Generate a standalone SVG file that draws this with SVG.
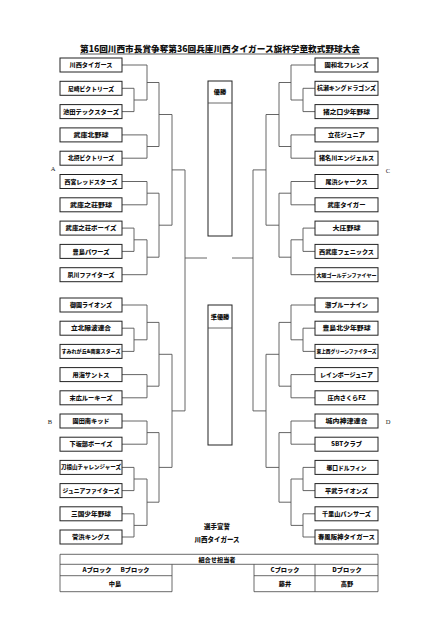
<svg xmlns="http://www.w3.org/2000/svg" width="447" height="640" viewBox="0 0 447 640">
<style>
.bg{fill:#fff}
.box{fill:#fff;stroke:#222;stroke-width:1}
.ln{fill:none;stroke:#555;stroke-width:0.9}
.tl{fill:none;stroke:#444;stroke-width:0.8}
.t{font-family:"Noto Sans CJK JP","Noto Sans",sans-serif;font-weight:900;fill:#111;text-anchor:middle;font-size:6.2px}
.s{font-size:5px}
.lab{font-family:"Liberation Serif",serif;font-size:6.5px;fill:#222;text-anchor:middle}
.title{font-family:"Noto Sans CJK JP",sans-serif;font-weight:900;font-size:8.5px;fill:#111;text-anchor:middle}
</style>
<rect class="bg" x="0" y="0" width="447" height="640"/>
<g id="title">
<text class="title" x="220" y="52" textLength="280" lengthAdjust="spacingAndGlyphs">第16回川西市長賞争奪第36回兵庫川西タイガース旗杯学童軟式野球大会</text>
<line x1="80" y1="54" x2="360" y2="54" stroke="#111" stroke-width="0.7"/>
</g>
<g id="connectors">
<path class="ln" d="M122,88.3H134V111.6H122M134,100H147M122,65H147V100M147,82.5H159M122,134.9H147V158.2H122M147,146.5H159M159,82.5V146.5M159,114.5H172
M122,181.5H147V204.8H122M147,193.2H159M122,228.1H134V251.4H122M134,239.8H147M122,274.7H147V239.8M147,257.2H159M159,193.2V257.2M159,225.2H172M172,114.5V225.2M172,169.9H185
M122,328.2H134V351.4H122M134,339.8H147M122,305H147V339.8M147,322.4H159M122,374.6H147V397.8H122M147,386.2H159M159,322.4V386.2M159,354.3H172
M122,421H147V444.2H122M147,432.6H159M122,467.4H134V490.6H122M134,479H147M122,513.8H134V537H122M134,525.4H147M147,479V525.4M147,502.2H159M159,432.6V502.2M159,467.4H172M172,354.3V467.4M172,410.9H185M185,169.9V410.9M185,258H207"/>
<path class="ln" d="M315,88.3H303V111.6H315M303,100H291M315,65H291V100M291,82.5H279M315,134.9H291V158.2H315M291,146.5H279M279,82.5V146.5M279,114.5H266
M315,181.5H291V204.8H315M291,193.2H279M315,228.1H303V251.4H315M303,239.8H291M315,274.7H291V239.8M291,257.2H279M279,193.2V257.2M279,225.2H266M266,114.5V225.2M266,169.9H253
M315,328.2H303V351.4H315M303,339.8H291M315,305H291V339.8M291,322.4H279M315,374.6H291V397.8H315M291,386.2H279M279,322.4V386.2M279,354.3H266
M315,421H291V444.2H315M291,432.6H279M315,467.4H303V490.6H315M303,479H291M315,513.8H303V537H315M303,525.4H291M291,479V525.4M291,502.2H279M279,432.6V502.2M279,467.4H266M266,354.3V467.4M266,410.9H253M253,169.9V410.9M253,258H232"/>
</g>
<g id="labels">
<text class="lab" x="53" y="171">A</text>
<text class="lab" x="50" y="424">B</text>
<text class="lab" x="388" y="173">C</text>
<text class="lab" x="388" y="424">D</text>
</g>
<g id="L01"><rect class="box" x="60" y="58" width="62" height="14"/><text class="t" x="91" y="67.2" textLength="43" lengthAdjust="spacingAndGlyphs">川西タイガース</text></g>
<g id="L02"><rect class="box" x="60" y="81.3" width="62" height="14"/><text class="t" x="91" y="90.5" textLength="46" lengthAdjust="spacingAndGlyphs">尼崎ビクトリーズ</text></g>
<g id="L03"><rect class="box" x="60" y="104.6" width="62" height="14"/><text class="t" x="91" y="113.8" textLength="56" lengthAdjust="spacingAndGlyphs">池田テックスターズ</text></g>
<g id="L04"><rect class="box" x="60" y="127.9" width="62" height="14"/><text class="t" x="91" y="137.1" textLength="35" lengthAdjust="spacingAndGlyphs">武庫北野球</text></g>
<g id="L05"><rect class="box" x="60" y="151.2" width="62" height="14"/><text class="t" x="91" y="160.4" textLength="46" lengthAdjust="spacingAndGlyphs">北摂ビクトリーズ</text></g>
<g id="L06"><rect class="box" x="60" y="174.5" width="62" height="14"/><text class="t" x="91" y="183.7" textLength="53" lengthAdjust="spacingAndGlyphs">西宮レッドスターズ</text></g>
<g id="L07"><rect class="box" x="60" y="197.8" width="62" height="14"/><text class="t" x="91" y="207" textLength="42" lengthAdjust="spacingAndGlyphs">武庫之荘野球</text></g>
<g id="L08"><rect class="box" x="60" y="221.1" width="62" height="14"/><text class="t" x="91" y="230.3" textLength="51" lengthAdjust="spacingAndGlyphs">武庫之荘ボーイズ</text></g>
<g id="L09"><rect class="box" x="60" y="244.4" width="62" height="14"/><text class="t" x="91" y="253.6" textLength="37" lengthAdjust="spacingAndGlyphs">豊島パワーズ</text></g>
<g id="L10"><rect class="box" x="60" y="267.7" width="62" height="14"/><text class="t" x="91" y="276.9" textLength="47" lengthAdjust="spacingAndGlyphs">夙川ファイターズ</text></g>
<g id="L11"><rect class="box" x="60" y="298" width="62" height="14"/><text class="t" x="91" y="307.2" textLength="42" lengthAdjust="spacingAndGlyphs">御園ライオンズ</text></g>
<g id="L12"><rect class="box" x="60" y="321.2" width="62" height="14"/><text class="t" x="91" y="330.4" textLength="40" lengthAdjust="spacingAndGlyphs">立北陽波連合</text></g>
<g id="L13"><rect class="box" x="60" y="344.4" width="62" height="14"/><text class="t s" x="91" y="353.2" textLength="59" lengthAdjust="spacingAndGlyphs">すみれが丘&amp;南東スターズ</text></g>
<g id="L14"><rect class="box" x="60" y="367.6" width="62" height="14"/><text class="t" x="91" y="376.8" textLength="37" lengthAdjust="spacingAndGlyphs">用海サントス</text></g>
<g id="L15"><rect class="box" x="60" y="390.8" width="62" height="14"/><text class="t" x="91" y="400" textLength="43" lengthAdjust="spacingAndGlyphs">末広ルーキーズ</text></g>
<g id="L16"><rect class="box" x="60" y="414" width="62" height="14"/><text class="t" x="91" y="423.2" textLength="37" lengthAdjust="spacingAndGlyphs">園田南キッド</text></g>
<g id="L17"><rect class="box" x="60" y="437.2" width="62" height="14"/><text class="t" x="91" y="446.4" textLength="43" lengthAdjust="spacingAndGlyphs">下坂部ボーイズ</text></g>
<g id="L18"><rect class="box" x="60" y="460.4" width="62" height="14"/><text class="t" x="91" y="469.4" textLength="60" lengthAdjust="spacingAndGlyphs" style="font-size:5.6px">刀根山チャレンジャーズ</text></g>
<g id="L19"><rect class="box" x="60" y="483.6" width="62" height="14"/><text class="t" x="91" y="492.7" textLength="57" lengthAdjust="spacingAndGlyphs" style="font-size:5.8px">ジュニアファイターズ</text></g>
<g id="L20"><rect class="box" x="60" y="506.8" width="62" height="14"/><text class="t" x="91" y="516" textLength="40" lengthAdjust="spacingAndGlyphs">三国少年野球</text></g>
<g id="L21"><rect class="box" x="60" y="530" width="62" height="14"/><text class="t" x="91" y="539.2" textLength="38" lengthAdjust="spacingAndGlyphs">菅浜キングス</text></g>
<g id="R01"><rect class="box" x="315" y="58" width="63" height="14"/><text class="t" x="346.5" y="67.2" textLength="44" lengthAdjust="spacingAndGlyphs">園和北フレンズ</text></g>
<g id="R02"><rect class="box" x="315" y="81.3" width="63" height="14"/><text class="t" x="346.5" y="90.4" textLength="59" lengthAdjust="spacingAndGlyphs" style="font-size:5.8px">杭瀬キングドラゴンズ</text></g>
<g id="R03"><rect class="box" x="315" y="104.6" width="63" height="14"/><text class="t" x="346.5" y="113.8" textLength="47" lengthAdjust="spacingAndGlyphs">猪之口少年野球</text></g>
<g id="R04"><rect class="box" x="315" y="127.9" width="63" height="14"/><text class="t" x="346.5" y="137.1" textLength="37" lengthAdjust="spacingAndGlyphs">立花ジュニア</text></g>
<g id="R05"><rect class="box" x="315" y="151.2" width="63" height="14"/><text class="t" x="346.5" y="160.4" textLength="55" lengthAdjust="spacingAndGlyphs">猪名川エンジェルス</text></g>
<g id="R06"><rect class="box" x="315" y="174.5" width="63" height="14"/><text class="t" x="346.5" y="183.7" textLength="42" lengthAdjust="spacingAndGlyphs">尾浜シャークス</text></g>
<g id="R07"><rect class="box" x="315" y="197.8" width="63" height="14"/><text class="t" x="346.5" y="207" textLength="38" lengthAdjust="spacingAndGlyphs">武庫タイガー</text></g>
<g id="R08"><rect class="box" x="315" y="221.1" width="63" height="14"/><text class="t" x="346.5" y="230.3" textLength="28" lengthAdjust="spacingAndGlyphs">大庄野球</text></g>
<g id="R09"><rect class="box" x="315" y="244.4" width="63" height="14"/><text class="t" x="346.5" y="253.6" textLength="55" lengthAdjust="spacingAndGlyphs">西武庫フェニックス</text></g>
<g id="R10"><rect class="box" x="315" y="267.7" width="63" height="14"/><text class="t s" x="346.5" y="276.5" textLength="60" lengthAdjust="spacingAndGlyphs">大阪ゴールデンファイヤー</text></g>
<g id="R11"><rect class="box" x="315" y="298" width="63" height="14"/><text class="t" x="346.5" y="307.2" textLength="43" lengthAdjust="spacingAndGlyphs">潮ブルーナイン</text></g>
<g id="R12"><rect class="box" x="315" y="321.2" width="63" height="14"/><text class="t" x="346.5" y="330.4" textLength="48" lengthAdjust="spacingAndGlyphs">豊島北少年野球</text></g>
<g id="R13"><rect class="box" x="315" y="344.4" width="63" height="14"/><text class="t s" x="346.5" y="353.2" textLength="60" lengthAdjust="spacingAndGlyphs">東上西グリーンファイターズ</text></g>
<g id="R14"><rect class="box" x="315" y="367.6" width="63" height="14"/><text class="t" x="346.5" y="376.8" textLength="53" lengthAdjust="spacingAndGlyphs">レインボージュニア</text></g>
<g id="R15"><rect class="box" x="315" y="390.8" width="63" height="14"/><text class="t" x="346.5" y="400" textLength="38" lengthAdjust="spacingAndGlyphs">庄内さくらFZ</text></g>
<g id="R16"><rect class="box" x="315" y="414" width="63" height="14"/><text class="t" x="346.5" y="423.2" textLength="42" lengthAdjust="spacingAndGlyphs">城内神津連合</text></g>
<g id="R17"><rect class="box" x="315" y="437.2" width="63" height="14"/><text class="t" x="346.5" y="446.4" textLength="31" lengthAdjust="spacingAndGlyphs">SBTクラブ</text></g>
<g id="R18"><rect class="box" x="315" y="460.4" width="63" height="14"/><text class="t" x="346.5" y="469.6" textLength="40" lengthAdjust="spacingAndGlyphs">塚口ドルフィン</text></g>
<g id="R19"><rect class="box" x="315" y="483.6" width="63" height="14"/><text class="t" x="346.5" y="492.8" textLength="43" lengthAdjust="spacingAndGlyphs">平武ライオンズ</text></g>
<g id="R20"><rect class="box" x="315" y="506.8" width="63" height="14"/><text class="t" x="346.5" y="516" textLength="49" lengthAdjust="spacingAndGlyphs">千里山パンサーズ</text></g>
<g id="R21"><rect class="box" x="315" y="530" width="63" height="14"/><text class="t" x="346.5" y="539.2" textLength="57" lengthAdjust="spacingAndGlyphs">春風阪神タイガース</text></g>
<g id="champion"><rect class="box" x="208" y="81" width="24" height="155"/><line class="tl" x1="208" y1="103" x2="232" y2="103"/><text class="t" x="220" y="94">優勝</text></g>
<g id="runnerup"><rect class="box" x="208" y="305" width="24" height="140"/><line class="tl" x1="208" y1="328" x2="232" y2="328"/><text class="t" x="220" y="319">準優勝</text></g>
<g id="oath"><text class="t" x="217" y="529" style="font-size:6.5px">選手宣誓</text><text class="t" x="217" y="541.5" style="font-size:6.5px">川西タイガース</text></g>
<g id="table">
<path class="tl" d="M60,554.3H378V591.7M60,554.3V591.7H172V564.3M60,564.3H378M60,575.7H172M254,575.7H378M254,591.7H378M254,564.3V591.7M315,564.3V591.7"/>
<text class="t" x="217" y="561.6">組合せ担当者</text>
<text class="t" x="97" y="572.3">Aブロック</text>
<text class="t" x="135" y="572.3">Bブロック</text>
<text class="t" x="115" y="586">中島</text>
<text class="t" x="285" y="572.3">Cブロック</text>
<text class="t" x="347" y="572.3">Dブロック</text>
<text class="t" x="285" y="586">藤井</text>
<text class="t" x="347" y="586">高野</text>
</g>
</svg>
